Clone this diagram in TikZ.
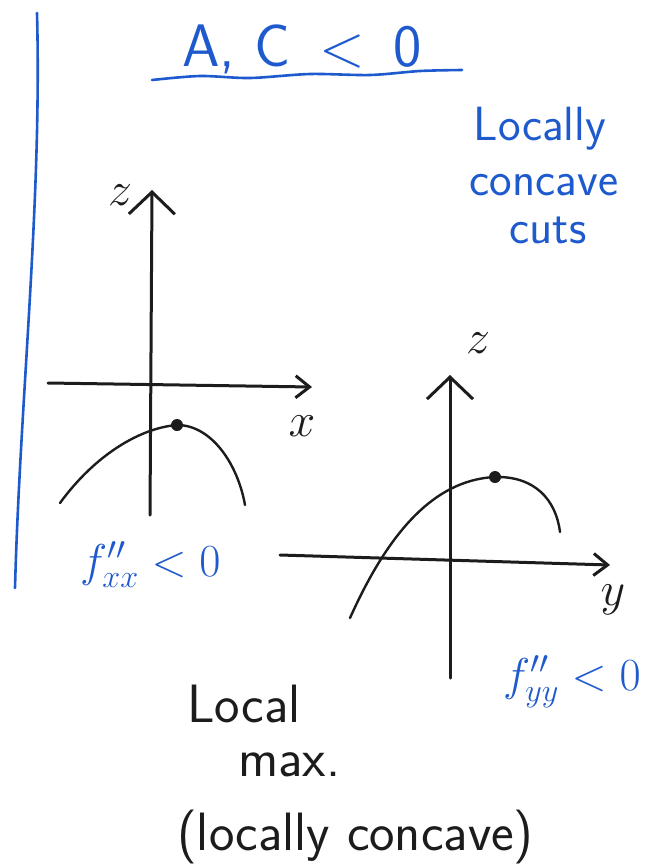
\documentclass[tikz,border=0pt]{standalone}
\usepackage{fix-cm}
\usepackage{fontspec}
\usepackage{tikz}
\usetikzlibrary{positioning,arrows.meta}
\usepackage{xcolor}
\definecolor{penblue}{RGB}{30,90,205}
\definecolor{penblack}{RGB}{28,28,28}

\begin{document}
\begin{tikzpicture}[
  x=1pt, y=-1pt,
  ink/.style={draw=penblack, line width=3pt, line cap=round, line join=round},
  blueink/.style={draw=penblue, line width=2.6pt, line cap=round},
  haxis/.style={ink, -{Straight Barb[length=14pt, width=22pt]}},
  vaxis/.style={ink, -{Straight Barb[length=22pt, width=46pt]}},
  cut/.style={draw=penblack, line width=2.4pt, line cap=round},
  bluetxt/.style={text=penblue, inner sep=0pt},
  blacktxt/.style={text=penblack, inner sep=0pt},
  words/.style={font=\sffamily\fontsize{48}{50}\selectfont},
  bigwords/.style={font=\sffamily\fontsize{54}{56}\selectfont},
  maxdot/.style={circle, fill=penblack, inner sep=0pt, minimum size=12pt},
]
\useasboundingbox (0,0) rectangle (659,868);

% Margin line and heading
\draw[blueink] (37,13) .. controls (42,200) and (20,400) .. (15,588);
\node[bluetxt, font=\sffamily\fontsize{60}{62}\selectfont, anchor=base] (title) at (302,66) {A, C \,<\, 0};
\draw[blueink] plot[smooth] coordinates {(152,80) (200,76) (250,78) (310,74) (370,75) (420,71) (462,70)};

% Side note
\node[bluetxt, words, anchor=base] (locally) at (540,140) {Locally};
\node[bluetxt, words, anchor=base] (concave) at (544,195) {concave};
\node[bluetxt, words, anchor=base] (cuts)    at (548,243) {cuts};

% Cut along x
\coordinate (zbotA) at (150,515);
\coordinate (ztopA) at (152,190);
\coordinate (xleft) at (48,383);
\coordinate (xright) at (312,387);
\draw[vaxis] (zbotA) -- (ztopA);
\draw[haxis] (xleft) -- (xright);
\node[blacktxt, font=\fontsize{48}{50}\selectfont] (zlabA) at (120,195) {$z$};
\node[blacktxt, font=\fontsize{48}{50}\selectfont] (xlab)  at (302,426) {$x$};
\draw[cut] (60,503) .. controls (95,455) and (140,428) .. (177,425)
           .. controls (212,425) and (238,465) .. (245,505);
\node[maxdot] (maxA) at (177,425) {};
\node[bluetxt, font=\fontsize{46}{48}\selectfont, anchor=base west] (fxx) at (80,576) {$f''_{xx} < 0$};

% Cut along y
\coordinate (zbotB) at (450,678);
\coordinate (ztopB) at (450,375);
\coordinate (yleft) at (280,555);
\coordinate (yright) at (610,565);
\draw[vaxis] (zbotB) -- (ztopB);
\draw[haxis] (yleft) -- (yright);
\node[blacktxt, font=\fontsize{48}{50}\selectfont] (zlabB) at (478,343) {$z$};
\node[blacktxt, font=\fontsize{48}{50}\selectfont] (ylab)  at (613,600) {$y$};
\draw[cut] (350,618) .. controls (385,540) and (430,480) .. (495,477)
           .. controls (535,476) and (556,500) .. (560,532);
\node[maxdot] (maxB) at (495,477) {};
\node[bluetxt, font=\fontsize{46}{48}\selectfont, anchor=base west] (fyy) at (503,690) {$f''_{yy} < 0$};

% Conclusion
\node[blacktxt, bigwords, anchor=base west] (local) at (187,722) {Local};
\node[blacktxt, bigwords, anchor=base west] (maxw)  at (238,776) {max.};
\node[blacktxt, bigwords, anchor=base west] (paren) at (177,850) {(locally concave)};

\end{tikzpicture}
\end{document}
